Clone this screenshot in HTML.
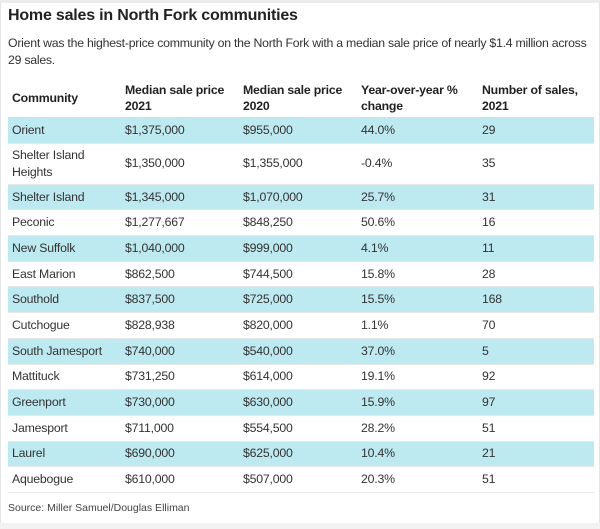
<!DOCTYPE html>
<html><head><meta charset="utf-8"><style>
body{margin:0;width:600px;height:529px;background:#fff;font-family:"Liberation Sans",sans-serif;color:#222;overflow:hidden;position:relative}
#frame{position:absolute;left:0;top:0;width:598px;height:521px;border:1px solid #e4e4e4;border-top:3px solid #ececec}
h1{position:absolute;left:8px;top:7px;margin:0;font-size:16px;font-weight:bold;color:#222;letter-spacing:-0.2px}
.sub{position:absolute;left:8px;top:35px;width:590px;font-size:12.3px;line-height:16.5px;color:#333;letter-spacing:-0.25px}
table{position:absolute;left:8px;top:79px;width:586px;border-collapse:collapse;font-size:12.3px;letter-spacing:-0.2px}
td,th{padding:0 0 0 4px;text-align:left;vertical-align:middle;border-bottom:1px solid #e8e8e8}
th{font-weight:bold;height:38px;line-height:16px;border-bottom:1px solid #ddd}
td{height:24.7px;line-height:15px;color:#333}
tr.hl td{background:#bde9f0}
tr.tall td{height:40px;line-height:17px}
.src{position:absolute;left:8px;top:502px;font-size:10.5px;color:#444}
.strip{position:absolute;left:0;top:523px;width:600px;height:6px;background:#f2f2f2}
</style></head><body>
<div id="frame"></div>
<h1>Home sales in North Fork communities</h1>
<div class="sub">Orient was the highest-price community on the North Fork with a median sale price of nearly $1.4 million across 29 sales.</div>
<table>
<colgroup><col style="width:113px"><col style="width:118px"><col style="width:118px"><col style="width:121px"><col></colgroup>
<tr><th>Community</th><th>Median sale price 2021</th><th>Median sale price 2020</th><th>Year-over-year % change</th><th>Number of sales, 2021</th></tr>
<tbody id="tb"></tbody>
</table>
<div class="src">Source: Miller Samuel/Douglas Elliman</div>
<div class="strip"></div>
<script>
const communities=["Orient","Shelter Island Heights","Shelter Island","Peconic","New Suffolk","East Marion","Southold","Cutchogue","South Jamesport","Mattituck","Greenport","Jamesport","Laurel","Aquebogue"];
const price2021=["$1,375,000","$1,350,000","$1,345,000","$1,277,667","$1,040,000","$862,500","$837,500","$828,938","$740,000","$731,250","$730,000","$711,000","$690,000","$610,000"];
const price2020=["$955,000","$1,355,000","$1,070,000","$848,250","$999,000","$744,500","$725,000","$820,000","$540,000","$614,000","$630,000","$554,500","$625,000","$507,000"];
const yoyChange=["44.0%","-0.4%","25.7%","50.6%","4.1%","15.8%","15.5%","1.1%","37.0%","19.1%","15.9%","28.2%","10.4%","20.3%"];
const salesCount=["29","35","31","16","11","28","168","70","5","92","97","51","21","51"];
const tb=document.getElementById('tb');
communities.forEach((c,i)=>{
  const tr=document.createElement('tr');
  
  
  if(i%2===0)tr.className='hl';
  if(i===1)tr.className='tall';
  [c,price2021[i],price2020[i],yoyChange[i],salesCount[i]].forEach((v,j)=>{
    const td=document.createElement('td');
    
    
    td.textContent=v;
    if(i===1&&j===0){td.innerHTML='Shelter Island<br>Heights';}
    tr.appendChild(td);
  });
  tb.appendChild(tr);
});
</script>
</body></html>
